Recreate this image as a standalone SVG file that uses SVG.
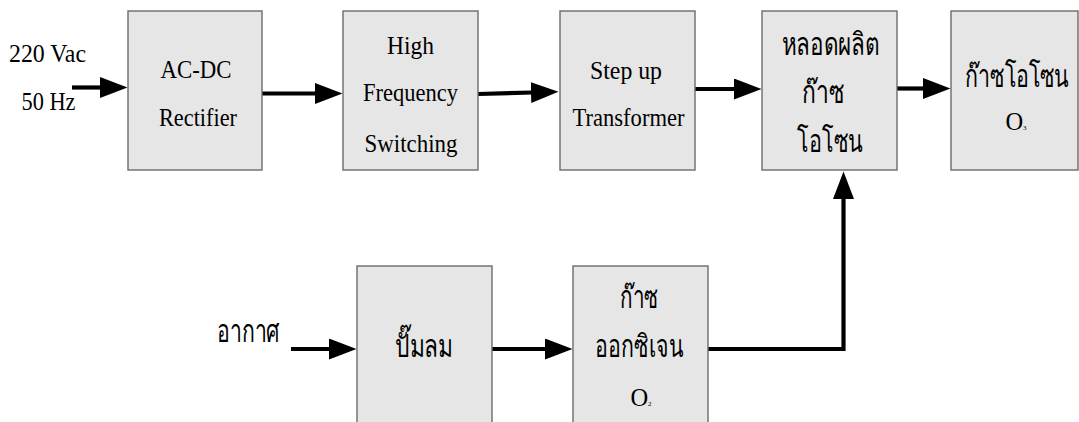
<svg xmlns="http://www.w3.org/2000/svg" width="1079" height="422" viewBox="0 0 1079 422">
<style>
.box{fill:#e6e6e6;stroke:#6b6b6b;stroke-width:1.4}
.t{font-family:"Liberation Serif","Times New Roman",serif;font-size:24.5px;fill:#000;text-anchor:middle}
.th{font-family:"Liberation Serif","Noto Sans",serif;font-size:31px;font-weight:normal;fill:#000;text-anchor:middle}
.sub{font-family:"Liberation Serif",serif;font-size:7px;fill:#000}
.c{fill:none;stroke:#000;stroke-width:4.2;stroke-linecap:butt;stroke-linejoin:miter}
</style>
<defs>
<marker id="ah" markerUnits="userSpaceOnUse" markerWidth="28" markerHeight="22" refX="1" refY="10.5" orient="auto">
<path d="M0,0 L27.5,10.5 L0,21 z" fill="#000"/>
</marker>
</defs>
<rect width="1079" height="422" fill="#fff"/>
<g id="connectors">
<line class="c" x1="72" y1="87.5" x2="101" y2="87.5" marker-end="url(#ah)"/>
<line class="c" x1="262" y1="93.5" x2="316" y2="93.5" marker-end="url(#ah)"/>
<line class="c" x1="478" y1="94" x2="532" y2="92.5" marker-end="url(#ah)"/>
<line class="c" x1="695" y1="89" x2="735" y2="89" marker-end="url(#ah)"/>
<line class="c" x1="897" y1="88.5" x2="924" y2="88.5" marker-end="url(#ah)"/>
<line class="c" x1="291" y1="349" x2="330" y2="349" marker-end="url(#ah)"/>
<line class="c" x1="492" y1="349" x2="546" y2="349" marker-end="url(#ah)"/>
<polyline class="c" points="708,349 843.5,349 843.5,198" marker-end="url(#ah)"/>
</g>
<g id="input-label">
<text class="t" x="9" y="62" style="text-anchor:start" textLength="77" lengthAdjust="spacingAndGlyphs">220 Vac</text>
<text class="t" x="21.5" y="110" style="text-anchor:start" textLength="54" lengthAdjust="spacingAndGlyphs">50 Hz</text>
</g>
<g id="ac-dc-rectifier">
<rect class="box" x="128" y="11" width="134" height="159"/>
<text class="t" x="196" y="77.5" textLength="71" lengthAdjust="spacingAndGlyphs">AC-DC</text>
<text class="t" x="198" y="125.5" textLength="78" lengthAdjust="spacingAndGlyphs">Rectifier</text>
</g>
<g id="high-frequency-switching">
<rect class="box" x="343" y="11" width="135" height="159"/>
<text class="t" x="410.5" y="53.5" textLength="47" lengthAdjust="spacingAndGlyphs">High</text>
<text class="t" x="410.5" y="100.5" textLength="95" lengthAdjust="spacingAndGlyphs">Frequency</text>
<text class="t" x="411" y="151.5" textLength="93" lengthAdjust="spacingAndGlyphs">Switching</text>
</g>
<g id="step-up-transformer">
<rect class="box" x="560" y="11" width="135" height="159"/>
<text class="t" x="626" y="78.5" textLength="72" lengthAdjust="spacingAndGlyphs">Step up</text>
<text class="t" x="628.5" y="126" textLength="112" lengthAdjust="spacingAndGlyphs">Transformer</text>
</g>
<g id="ozone-tube">
<rect class="box" x="762" y="11" width="135" height="159"/>
<text class="th" x="830.5" y="54.5" textLength="98" lengthAdjust="spacingAndGlyphs">หลอดผลิต</text>
<text class="th" x="823" y="103" textLength="42" lengthAdjust="spacingAndGlyphs">ก๊าซ</text>
<text class="th" x="830" y="151.5" textLength="66" lengthAdjust="spacingAndGlyphs">โอโซน</text>
</g>
<g id="ozone-gas">
<rect class="box" x="951" y="11" width="127" height="159"/>
<text class="th" transform="translate(1017,87) scale(0.69,1)" x="0" y="0">ก๊าซโอโซน</text>
<text class="t" x="1016" y="130">O<tspan class="sub">3</tspan></text>
</g>
<g id="air-label">
<text class="th" x="217" y="342" style="text-anchor:start" textLength="63" lengthAdjust="spacingAndGlyphs">อากาศ</text>
</g>
<g id="air-pump">
<rect class="box" x="357" y="266" width="135" height="170"/>
<text class="th" x="424" y="357" textLength="58" lengthAdjust="spacingAndGlyphs">ปั๊มลม</text>
</g>
<g id="oxygen-gas">
<rect class="box" x="573" y="266" width="135" height="170"/>
<text class="th" x="639" y="308" textLength="38" lengthAdjust="spacingAndGlyphs">ก๊าซ</text>
<text class="th" x="639" y="357" textLength="88" lengthAdjust="spacingAndGlyphs">ออกซิเจน</text>
<text class="t" x="641" y="406">O<tspan class="sub">2</tspan></text>
</g>
</svg>
